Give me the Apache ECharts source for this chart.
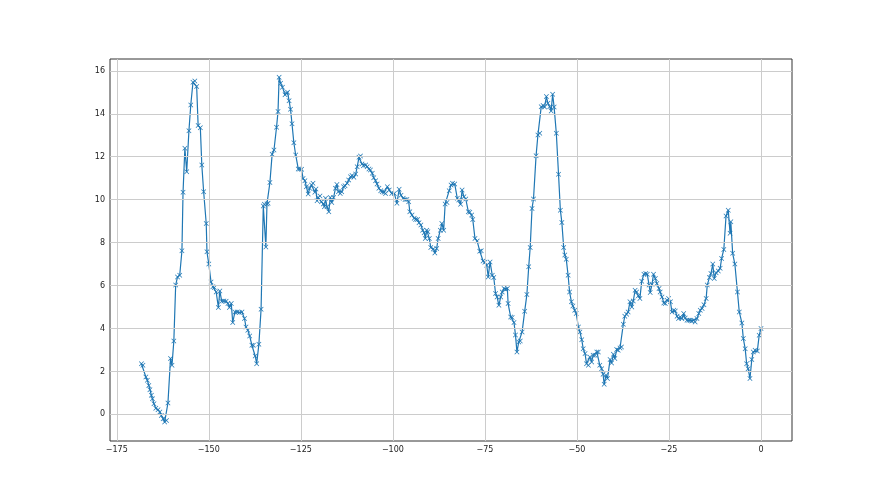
<!DOCTYPE html>
<html>
<head>
<meta charset="utf-8">
<script src="https://cdn.jsdelivr.net/npm/echarts@6/dist/echarts.min.js"></script>
<style>
html,body{margin:0;padding:0;background:#fff;}
#c{width:880px;height:495px;}
</style>
</head>
<body>
<div id="c"></div>
<script>
const xTicks = [-175, -150, -125, -100, -75, -50, -25, 0];
const yTicks = [0, 2, 4, 6, 8, 10, 12, 14, 16];

const xs = [
-168.3,-167.9,-167.1,-166.7,-166.3,-166.0,-165.6,-165.3,-164.9,-164.4,-163.8,-163.3,-162.9,-162.4,-162.0,-161.5,-161.1,-160.4,-160.0,-159.5,
-159.0,-158.5,-157.9,-157.3,-157.0,-156.5,-156.0,-155.4,-154.9,-154.3,-153.8,-153.3,-152.9,-152.3,-151.9,-151.4,-150.7,-150.5,-150.0,-149.4,
-148.9,-148.5,-148.0,-147.4,-147.0,-146.5,-145.9,-145.3,-144.8,-144.4,-143.9,-143.5,-142.9,-142.3,-141.7,-141.0,-140.3,-139.9,-139.4,-138.9,
-138.3,-137.9,-137.4,-137.0,-136.4,-135.8,-135.2,-134.9,-134.5,-134.2,-133.9,-133.4,-132.8,-132.3,-131.6,-131.2,-130.9,-130.5,-130.0,-129.3,
-128.9,-128.6,-128.2,-127.8,-127.4,-126.9,-126.4,-125.7,-125.3,-124.8,-124.4,-123.9,-123.5,-123.0,-122.6,-122.1,-121.7,-121.2,-120.9,-120.6,
-120.3,-119.8,-119.4,-118.9,-118.6,-118.3,-117.9,-117.4,-117.0,-116.6,-116.1,-115.6,-115.2,-114.8,-114.3,-113.9,-113.4,-113.0,-112.4,-112.0,
-111.5,-111.1,-110.6,-110.1,-109.7,-109.2,-108.8,-108.4,-108.0,-107.4,-107.0,-106.5,-106.1,-105.6,-105.2,-104.7,-104.3,-103.8,-103.3,-102.9,
-102.4,-102.0,-101.5,-101.0,-100.3,-99.6,-98.9,-98.3,-97.8,-97.2,-96.7,-96.2,-95.7,-95.4,-94.8,-94.2,-93.8,-93.3,-92.9,-92.4,
-91.9,-91.5,-91.2,-90.8,-90.5,-90.1,-89.7,-89.0,-88.6,-88.1,-87.7,-87.1,-86.7,-86.2,-85.8,-85.3,-84.7,-84.2,-83.8,-83.2,
-82.5,-82.1,-81.6,-81.2,-80.7,-80.2,-79.5,-79.1,-78.6,-78.3,-77.7,-77.1,-76.4,-76.0,-75.5,-75.0,-74.5,-74.1,-73.6,-73.0,
-72.6,-72.1,-71.7,-71.2,-70.7,-70.3,-69.8,-69.4,-68.9,-68.7,-68.0,-67.6,-67.1,-66.7,-66.3,-65.8,-65.4,-64.9,-64.2,-63.6,
-63.1,-62.7,-62.2,-61.8,-61.1,-60.6,-60.1,-59.7,-59.2,-58.8,-58.3,-57.9,-57.4,-57.0,-56.6,-56.2,-55.6,-55.0,-54.5,-54.1,
-53.6,-53.3,-52.9,-52.4,-52.0,-51.5,-51.1,-50.6,-50.2,-49.6,-49.2,-48.7,-48.3,-47.8,-47.4,-46.9,-46.5,-46.0,-45.6,-45.1,
-44.6,-44.2,-43.8,-43.3,-42.9,-42.6,-42.1,-41.7,-41.0,-40.6,-40.1,-39.7,-39.2,-38.8,-38.3,-37.9,-37.4,-37.0,-36.5,-36.1,
-35.6,-35.1,-34.7,-34.2,-33.8,-33.3,-32.9,-32.4,-31.8,-31.3,-30.9,-30.4,-30.1,-29.6,-29.2,-28.7,-28.3,-27.7,-27.4,-26.9,
-26.4,-26.0,-25.5,-25.1,-24.6,-24.2,-23.7,-23.3,-22.8,-22.4,-21.9,-21.5,-21.0,-20.6,-20.1,-19.6,-19.2,-18.8,-18.3,-17.9,
-17.4,-16.9,-16.5,-16.0,-15.5,-14.9,-14.6,-14.0,-13.6,-13.1,-12.7,-12.2,-11.6,-11.1,-10.7,-10.1,-9.5,-8.9,-8.4,-8.2,
-7.7,-7.1,-6.4,-5.9,-5.2,-4.8,-4.3,-3.9,-3.5,-3.0,-2.5,-2.1,-1.6,-1.0,-0.5,0
];

const ys = [
2.36,2.29,1.74,1.59,1.35,1.15,0.89,0.73,0.5,0.28,0.22,0.11,-0.05,-0.2,-0.36,-0.28,0.53,2.6,2.29,3.42,
6.02,6.4,6.48,7.62,10.34,12.39,11.3,13.21,14.41,15.47,15.53,15.27,13.45,13.35,11.61,10.37,8.89,7.57,7.0,6.17,
5.94,5.91,5.7,4.98,5.75,5.27,5.28,5.27,5.16,4.98,5.16,4.28,4.77,4.77,4.74,4.77,4.46,4.07,3.92,3.65,
3.22,3.22,2.72,2.36,3.26,4.9,9.7,9.78,7.8,9.8,9.83,10.8,12.11,12.31,13.37,14.1,15.7,15.42,15.24,14.88,
14.96,15.0,14.61,14.21,13.53,12.65,12.08,11.43,11.43,11.41,10.99,10.88,10.6,10.26,10.53,10.68,10.76,10.34,10.49,9.95,
10.1,10.17,9.9,9.8,9.67,10.06,9.67,9.44,10.1,9.87,10.1,10.53,10.71,10.37,10.29,10.37,10.6,10.65,10.76,10.91,
11.07,11.12,11.04,11.19,11.53,11.97,12.03,11.66,11.58,11.61,11.53,11.43,11.38,11.23,11.02,10.88,10.73,10.53,10.42,10.37,
10.34,10.29,10.6,10.45,10.29,10.29,9.83,10.48,10.21,10.06,10.01,10.01,9.9,9.44,9.28,9.13,9.08,9.08,8.92,8.82,
8.58,8.46,8.19,8.58,8.5,8.19,7.77,7.7,7.52,7.73,8.19,8.58,8.89,8.58,9.8,9.87,10.42,10.68,10.76,10.73,
10.06,9.98,9.78,10.45,10.14,10.03,9.44,9.41,9.28,9.08,8.19,8.07,7.6,7.62,7.14,7.08,6.95,6.4,7.1,6.48,
6.38,5.63,5.47,5.08,5.47,5.7,5.86,5.82,5.86,5.16,4.54,4.51,4.28,3.7,2.91,3.37,3.42,3.84,4.8,5.58,
6.87,7.77,9.59,10.03,12.05,13.01,13.09,14.33,14.38,14.31,14.8,14.49,14.33,14.13,14.91,14.31,13.09,11.18,9.51,8.94,
7.77,7.42,7.23,6.48,5.7,5.24,5.05,4.85,4.7,4.07,3.84,3.48,3.06,2.83,2.36,2.29,2.67,2.44,2.75,2.75,
2.91,2.91,2.29,2.13,1.87,1.4,1.82,1.67,2.55,2.39,2.8,2.6,3.02,2.99,3.09,3.14,4.2,4.57,4.66,4.77,
5.24,5.0,5.28,5.78,5.7,5.52,5.4,6.2,6.53,6.56,6.53,6.02,5.68,6.06,6.53,6.33,6.09,5.86,5.7,5.47,
5.19,5.16,5.32,5.4,5.24,4.77,4.85,4.82,4.57,4.46,4.54,4.46,4.7,4.49,4.38,4.38,4.38,4.35,4.38,4.3,
4.46,4.7,4.85,4.93,5.1,5.4,6.02,6.38,6.56,7.0,6.33,6.59,6.68,6.8,7.26,7.68,9.24,9.51,8.43,8.97,
7.5,7.0,5.7,4.77,4.26,3.53,3.06,2.36,2.13,1.67,2.55,2.91,2.99,2.95,3.68,4.0
];

const seriesData = xs.map((x, i) => [x, ys[i]]);
const fmt = v => (v < 0 ? '\u2212' + Math.abs(v) : String(v));
const FONT = 'DejaVu Sans';

const gridLines = xTicks.map(v => ({xAxis: v})).concat(yTicks.map(v => ({yAxis: v})));

const chart = echarts.init(document.getElementById('c'), null, {renderer: 'canvas'});
chart.setOption({
  animation: false,
  backgroundColor: '#ffffff',
  grid: {
    left: 110, right: 88, top: 59, bottom: 54,
    show: true, borderColor: '#333333', borderWidth: 1, backgroundColor: 'transparent'
  },
  xAxis: {
    type: 'value',
    min: -176.84, max: 8.42,
    axisLine: {show: false},
    axisTick: {show: true, length: 3, lineStyle: {color: '#333', width: 1}, customValues: xTicks},
    axisLabel: {show: true, customValues: xTicks, formatter: fmt, color: '#222', fontFamily: FONT, fontSize: 8, margin: 5},
    splitLine: {show: false}
  },
  yAxis: {
    type: 'value',
    min: -1.24, max: 16.55,
    axisLine: {show: false},
    axisTick: {show: true, length: 3, lineStyle: {color: '#333', width: 1}, customValues: yTicks},
    axisLabel: {show: true, customValues: yTicks, formatter: fmt, color: '#222', fontFamily: FONT, fontSize: 8, margin: 5},
    splitLine: {show: false}
  },
  series: [{
    type: 'scatter',
    z: 1,
    silent: true,
    symbolSize: 0,
    data: [[xTicks[0], yTicks[0]]],
    markLine: {
      silent: true,
      animation: false,
      symbol: ['none', 'none'],
      label: {show: false},
      lineStyle: {type: 'solid', color: '#cccccc', width: 1},
      emphasis: {disabled: true},
      data: gridLines
    }
  }, {
    type: 'line',
    z: 3,
    data: seriesData,
    showSymbol: true,
    symbol: 'path://M0,1L1,0L5,4L9,0L10,1L6,5L10,9L9,10L5,6L1,10L0,9L4,5Z',
    symbolSize: 5,
    itemStyle: {color: '#1f77b4'},
    lineStyle: {color: '#1f77b4', width: 1.2},
    emphasis: {disabled: true}
  }]
});
</script>
</body>
</html>
